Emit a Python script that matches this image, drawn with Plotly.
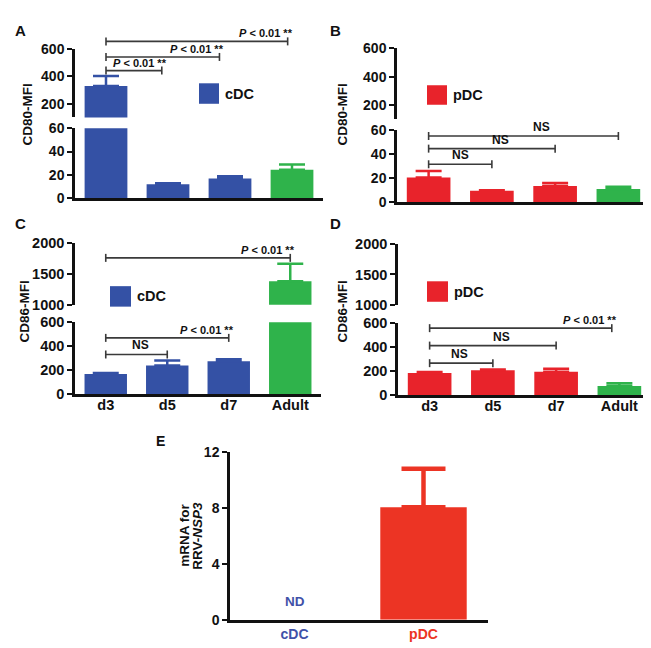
import plotly.graph_objects as go

W, H = 651, 648
FONT = "Liberation Sans, Arial, sans-serif"

# ---------------- data ----------------
days = ['d3', 'd5', 'd7', 'Adult']
cd80_cdc = [330, 12, 17, 24.5]
cd80_cdc_top = [403, 13, 19, 29]
cd80_pdc = [20.5, 9.5, 13.5, 11]
cd80_pdc_top = [26, 10, 16, 13]
cd86_cdc = [170, 240, 275, 1380]
cd86_cdc_top = [178, 282, 293, 1665]
cd86_pdc = [186, 208, 197, 79]
cd86_pdc_top = [194, 216, 221, 100]
cells = ['cDC', 'pDC']
nsp3 = [0, 8.05]
nsp3_top = [0, 10.8]

BLUE = '#3451a5'
RED = '#e8232b'
GREEN = '#2fb34b'
ERED = '#ec3424'
INK = '#111111'
BR = '#3a3a3a'


def dom_x(a, b):
    return [a / W, b / W]


def dom_y(top, bottom):
    return [1 - bottom / H, 1 - top / H]


panels = [
    dict(letter='A', vals=cd80_cdc, tops=cd80_cdc_top, color=BLUE, label='cDC', title='CD80-MFI',
         x=(67, 315), low=(115, 187), lrng=[0, 60], ltick=[0, 20, 40, 60],
         up=(34, 104), urng=[100, 600], utick=[200, 400, 600], xlabels=False, tfs=14,
         letter_xy=(12, 15), title_xy=(20, 101), sq=(191, 69, 211, 90)),
    dict(letter='B', vals=cd80_pdc, tops=cd80_pdc_top, color=RED, label='pDC', title='CD80-MFI',
         x=(389, 642), low=(117, 191), lrng=[0, 60], ltick=[0, 20, 40, 60],
         up=(33, 106), urng=[100, 600], utick=[200, 400, 600], xlabels=False, tfs=14,
         letter_xy=(327, 15), title_xy=(335, 101), sq=(419, 71, 439, 91)),
    dict(letter='C', vals=cd86_cdc, tops=cd86_cdc_top, color=BLUE, label='cDC', title='CD86-MFI',
         x=(67, 313), low=(314, 388), lrng=[0, 600], ltick=[0, 200, 400, 600],
         up=(233, 296), urng=[1000, 2000], utick=[1000, 1500, 2000], xlabels=True, tfs=14.5,
         letter_xy=(12, 213), title_xy=(17, 303), sq=(102, 277, 123, 298)),
    dict(letter='D', vals=cd86_pdc, tops=cd86_pdc_top, color=RED, label='pDC', title='CD86-MFI',
         x=(390, 643), low=(315, 389), lrng=[0, 600], ltick=[0, 200, 400, 600],
         up=(234, 296), urng=[1000, 2000], utick=[1000, 1500, 2000], xlabels=True, tfs=14.5,
         letter_xy=(327, 213), title_xy=(335, 303), sq=(419, 272, 440, 293)),
]

# brackets: (panel index, segment, start cat, end cat, y value, text kind, NS text x)
brackets = [
    (0, 'up', 0, 0.9, 443, 'P', None),
    (0, 'up', 0, 1.83, 543, 'P', None),
    (0, 'up', 0, 2.93, 657, 'P', None),
    (1, 'low', 0, 1, 31.6, 'NS', 0.51),
    (1, 'low', 0, 2, 44.6, 'NS', 1.13),
    (1, 'low', 0, 3, 55.1, 'NS', 1.78),
    (2, 'up', 0, 3, 1762, 'P', None),
    (2, 'low', 0, 2, 470, 'P', None),
    (2, 'low', 0, 1, 332, 'NS', 0.56),
    (3, 'low', 0, 2.88, 559, 'P', None),
    (3, 'low', 0, 2, 414, 'NS', 1.13),
    (3, 'low', 0, 1, 268, 'NS', 0.48),
]

fig = go.Figure()
layout = dict(width=W, height=H, margin=dict(l=0, r=0, t=0, b=0),
              paper_bgcolor='white', plot_bgcolor='rgba(0,0,0,0)',
              barmode='overlay', showlegend=False,
              font=dict(family=FONT, color=INK))
shapes = []
annots = []

LW = 2.5


def yaxis_common(rng, ticks, fs):
    return dict(range=rng, tickvals=ticks, ticktext=[str(t) for t in ticks],
                showline=True, linewidth=LW, linecolor=INK, ticks='outside', ticklen=5,
                tickwidth=2, tickcolor=INK, showgrid=False, zeroline=False,
                tickfont=dict(family=FONT, size=fs, color=INK, weight='bold'))


axis_ids = {}
for k, p in enumerate(panels):
    nL, nU = 2 * k + 1, 2 * k + 2
    axis_ids[k] = (nL, nU)
    xs = '' if nL == 1 else str(nL)
    layout['xaxis' + xs] = dict(domain=dom_x(*p['x']), range=[-0.5, 3.5], type='category',
                                categoryorder='array', categoryarray=days,
                                showline=True, linewidth=LW, linecolor=INK, ticks='',
                                showticklabels=p['xlabels'], showgrid=False, zeroline=False,
                                anchor='y' + xs, ticklabelstandoff=-5,
                                tickfont=dict(family=FONT, size=14.5, color=INK, weight='bold'))
    layout['yaxis' + xs] = dict(domain=dom_y(*p['low']), anchor='x' + xs,
                                **yaxis_common(p['lrng'], p['ltick'], p['tfs']))
    layout['xaxis' + str(nU)] = dict(domain=dom_x(*p['x']), range=[-0.5, 3.5], type='category',
                                     categoryorder='array', categoryarray=days,
                                     visible=False, anchor='y' + str(nU))
    layout['yaxis' + str(nU)] = dict(domain=dom_y(*p['up']), anchor='x' + str(nU),
                                     **yaxis_common(p['urng'], p['utick'], p['tfs']))
    for n in (nL, nU):
        sx = '' if n == 1 else str(n)
        groups = [(days[:3], p['vals'][:3], p['tops'][:3], p['color']),
                  (days[3:], p['vals'][3:], p['tops'][3:], GREEN)]
        for cats, v, t, col in groups:
            fig.add_trace(go.Bar(
                x=cats, y=v, width=0.69, marker=dict(color=col, line=dict(width=0)),
                error_y=dict(type='data', symmetric=False,
                             array=[b - a for a, b in zip(v, t)], arrayminus=[0] * len(v),
                             color=col, thickness=2.5, width=13),
                xaxis='x' + sx, yaxis='y' + sx, hoverinfo='skip'))
    # legend-like swatch and label
    x0, y0, x1, y1 = p['sq']
    shapes.append(dict(type='rect', xref='paper', yref='paper', x0=x0 / W, x1=x1 / W,
                       y0=1 - y1 / H, y1=1 - y0 / H, fillcolor=p['color'], line=dict(width=0)))
    annots.append(dict(text=p['label'], xref='paper', yref='paper', x=(x1 + 4) / W,
                       y=1 - (y0 + y1) / 2 / H, xanchor='left', yanchor='middle', showarrow=False,
                       font=dict(family=FONT, size=14.5, color=INK, weight='bold')))
    lx, ly = p['letter_xy']
    annots.append(dict(text=p['letter'], xref='paper', yref='paper', x=lx / W, y=1 - ly / H,
                       xanchor='center', yanchor='middle', showarrow=False,
                       font=dict(family=FONT, size=15, color=INK, weight='bold')))
    tx, ty = p['title_xy']
    annots.append(dict(text=p['title'], xref='paper', yref='paper', x=tx / W, y=1 - ty / H,
                       xanchor='center', yanchor='middle', textangle=-90, showarrow=False,
                       font=dict(family=FONT, size=13.5, color=INK, weight='bold')))

for (k, seg, c0, c1, yv, kind, tx) in brackets:
    p = panels[k]
    nL, nU = axis_ids[k]
    n = nL if seg == 'low' else nU
    sx = '' if n == 1 else str(n)
    rng = p['lrng'] if seg == 'low' else p['urng']
    fy = (yv - rng[0]) / (rng[1] - rng[0])
    fx0 = (c0 + 0.5) / len(days)
    fx1 = (c1 + 0.5) / len(days)
    xr, yr = 'x' + sx + ' domain', 'y' + sx + ' domain'
    shapes.append(dict(type='line', xref=xr, yref=yr, x0=fx0, x1=fx1, y0=fy, y1=fy,
                       line=dict(color=BR, width=1.6)))
    for fxe in (fx0, fx1):
        shapes.append(dict(type='line', xref=xr, yref=yr, x0=fxe, x1=fxe,
                           ysizemode='pixel', yanchor=fy, y0=-4, y1=4,
                           line=dict(color=BR, width=1.6)))
    if kind == 'P':
        annots.append(dict(text='<i>P</i> &lt; 0.01 **', xref=xr, yref=yr, x=fx1, y=fy,
                           xanchor='right', yanchor='bottom', xshift=7, yshift=0,
                           showarrow=False,
                           font=dict(family=FONT, size=11, color=INK, weight='bold')))
    else:
        annots.append(dict(text='NS', xref=xr, yref=yr, x=(tx + 0.5) / len(days), y=fy,
                           xanchor='center', yanchor='bottom', yshift=0, showarrow=False,
                           font=dict(family=FONT, size=12, color=INK, weight='bold')))

# ---------------- panel E ----------------
layout['xaxis9'] = dict(domain=dom_x(222, 480), range=[-0.5, 1.5], type='category',
                        categoryorder='array', categoryarray=cells,
                        tickvals=cells,
                        ticktext=['<span style="color:%s">cDC</span>' % '#3f51a8',
                                  '<span style="color:%s">pDC</span>' % ERED],
                        showline=True, linewidth=LW, linecolor=INK, ticks='',
                        showgrid=False, zeroline=False, anchor='y9',
                        tickfont=dict(family=FONT, size=14, color=INK, weight='bold'))
layout['yaxis9'] = dict(domain=dom_y(447, 619), anchor='x9',
                        **yaxis_common([0, 12], [0, 4, 8, 12], 14))
fig.add_trace(go.Bar(
    x=cells[1:], y=nsp3[1:], width=0.67, marker=dict(color=ERED, line=dict(width=0)),
    error_y=dict(type='data', symmetric=False,
                 array=[b - a for a, b in zip(nsp3[1:], nsp3_top[1:])], arrayminus=[0],
                 color=ERED, thickness=4.5, width=22),
    xaxis='x9', yaxis='y9', hoverinfo='skip'))
annots.append(dict(text='ND', xref='x9', yref='y9', x=cells[0], y=0, yanchor='bottom',
                   xanchor='center', yshift=9, showarrow=False,
                   font=dict(family=FONT, size=13.5, color='#3f51a8', weight='bold')))
annots.append(dict(text='mRNA for', xref='paper', yref='paper',
                   x=177 / W, y=1 - 533 / H, xanchor='center', yanchor='middle',
                   textangle=-90, showarrow=False,
                   font=dict(family=FONT, size=13.5, color=INK, weight='bold')))
annots.append(dict(text='RRV-<i>NSP3</i>', xref='paper', yref='paper',
                   x=190 / W, y=1 - 533 / H, xanchor='center', yanchor='middle',
                   textangle=-90, showarrow=False,
                   font=dict(family=FONT, size=13.5, color=INK, weight='bold')))
annots.append(dict(text='E', xref='paper', yref='paper', x=152 / W, y=1 - 436 / H,
                   xanchor='center', yanchor='middle', showarrow=False,
                   font=dict(family=FONT, size=14, color=INK, weight='bold')))

layout['shapes'] = shapes
layout['annotations'] = annots
fig.update_layout(**layout)
fig.write_html("out.html")
